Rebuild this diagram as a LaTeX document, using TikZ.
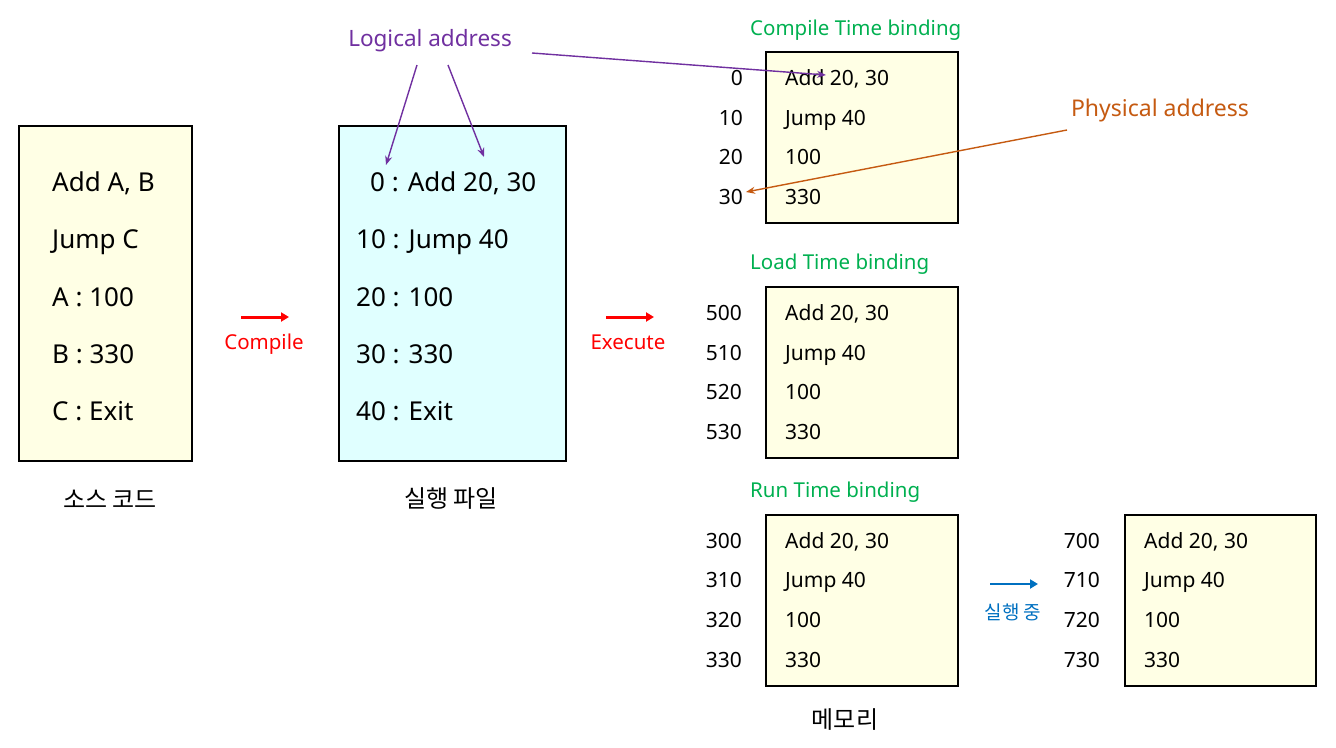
\documentclass[tikz,border=0pt]{standalone}
\usepackage{fontspec}
\setmainfont{Noto Sans}
\newfontfamily\kr{Noto Sans CJK KR}
\usetikzlibrary{arrows.meta}
\definecolor{boxyellow}{HTML}{FFFFE5}
\definecolor{boxcyan}{HTML}{E0FFFF}
\definecolor{purp}{HTML}{7030A0}
\definecolor{orng}{HTML}{C55A11}
\definecolor{grn}{HTML}{00B050}
\definecolor{blu}{HTML}{0070C0}
\tikzset{
  membox/.style={draw=black, line width=1.6pt, fill=boxyellow},
  bigtxt/.style={anchor=base west, inner sep=0pt, font=\fontsize{26}{30}\selectfont},
  smalltxt/.style={anchor=base west, inner sep=0pt, font=\fontsize{21}{25}\selectfont},
  addr/.style={anchor=base east, inner sep=0pt, font=\fontsize{21}{25}\selectfont},
  ttl/.style={anchor=base west, inner sep=0pt, text=grn, font=\fontsize{20.5}{24}\selectfont},
  captxt/.style={inner sep=0pt, font=\kr\fontsize{24}{28}\selectfont},
  steparrow/.style={-{Triangle[length=8pt,width=9pt]}, line width=3pt},
  ptr/.style={-{Stealth[length=9pt,width=7pt]}, line width=1.4pt},
}
\begin{document}
\begin{tikzpicture}[x=1pt,y=-1pt]
\useasboundingbox (0,0) rectangle (1336,747);
% source code box
\node[membox, minimum width=173pt, minimum height=335pt, anchor=north west] (src) at (18,125) {};
\foreach \t/\y [count=\i] in {{Add A, B}/191,{Jump C}/248,{A : 100}/306,{B : 330}/363,{C : Exit}/420}
  \node[bigtxt] (s\i) at (52,\y) {\t};
\node[captxt] (srclbl) at (110,499) {소스 코드};
% executable
\node[draw=black, line width=1.6pt, fill=boxcyan, minimum width=227pt, minimum height=335pt, anchor=north west] (exe) at (338,125) {};
\node[bigtxt] (e1) at (370,191) {0 : Add 20, 30};
\node[bigtxt] (e2) at (356,248) {10 : Jump 40};
\node[bigtxt] (e3) at (356,306) {20 : 100};
\node[bigtxt] (e4) at (356,363) {30 : 330};
\node[bigtxt] (e5) at (356,420) {40 : Exit};
\node[captxt] (exelbl) at (451,499) {실행 파일};
% compile / execute arrows
\coordinate (ca) at (241,317); \coordinate (cb) at (289,317);
\draw[steparrow, red] (ca) -- (cb);
\node[anchor=base, inner sep=0pt, text=red, font=\fontsize{20.5}{24}\selectfont] (clbl) at (264,349) {Compile};
\coordinate (xa) at (606,317); \coordinate (xb) at (654,317);
\draw[steparrow, red] (xa) -- (xb);
\node[anchor=base, inner sep=0pt, text=red, font=\fontsize{20.5}{24}\selectfont] (xlbl) at (628,349) {Execute};
% memory boxes
\node[membox, minimum width=192pt, minimum height=171pt, anchor=north west] (m1) at (765,51) {};
\node[membox, minimum width=192pt, minimum height=171pt, anchor=north west] (m2) at (765,286) {};
\node[membox, minimum width=192pt, minimum height=171pt, anchor=north west] (m3) at (765,514) {};
\node[membox, minimum width=191pt, minimum height=171pt, anchor=north west] (m4) at (1124,514) {};
\node[ttl] (t1) at (750,35) {Compile Time binding};
\node[ttl] (t2) at (750,269) {Load Time binding};
\node[ttl] (t3) at (750,497) {Run Time binding};
% rows
\foreach \a/\t/\y [count=\i] in {0/{Add 20, 30}/85,10/{Jump 40}/125,20/100/164,30/330/204}{
  \node[addr] (a1\i) at (743,\y) {\a};
  \node[smalltxt] (r1\i) at (785,\y) {\t};
}
\foreach \a/\t/\y [count=\i] in {500/{Add 20, 30}/320,510/{Jump 40}/360,520/100/399,530/330/439}{
  \node[addr] (a2\i) at (742,\y) {\a};
  \node[smalltxt] (r2\i) at (785,\y) {\t};
}
\foreach \a/\t/\y [count=\i] in {300/{Add 20, 30}/548,310/{Jump 40}/587,320/100/627,330/330/667}{
  \node[addr] (a3\i) at (742,\y) {\a};
  \node[smalltxt] (r3\i) at (785,\y) {\t};
}
\foreach \a/\t/\y [count=\i] in {700/{Add 20, 30}/548,710/{Jump 40}/587,720/100/627,730/330/667}{
  \node[addr] (a4\i) at (1100,\y) {\a};
  \node[smalltxt] (r4\i) at (1144,\y) {\t};
}
\node[captxt] (memlbl) at (845,720) {메모리};
% run-time arrow
\coordinate (ra) at (990,584); \coordinate (rb) at (1038,584);
\draw[-{Triangle[length=8pt,width=9pt]}, line width=2.6pt, blu] (ra) -- (rb);
\node[inner sep=0pt, text=blu, font=\kr\fontsize{19}{23}\selectfont] (rlbl) at (1013,612) {실행 중};
% logical address
\node[anchor=base, inner sep=0pt, text=purp, font=\fontsize{22.5}{26}\selectfont] (log) at (430,46) {Logical address};
\coordinate (l1s) at (417,65); \coordinate (l1e) at (386,165);
\coordinate (l2s) at (448,65); \coordinate (l2e) at (484,157);
\coordinate (l3s) at (532,53); \coordinate (l3e) at (826,75);
\draw[ptr, purp] (l1s) -- (l1e);
\draw[ptr, purp] (l2s) -- (l2e);
\draw[ptr, purp] (l3s) -- (l3e);
% physical address
\node[anchor=base, inner sep=0pt, text=orng, font=\fontsize{23}{27}\selectfont] (phy) at (1160,116) {Physical address};
\coordinate (ps) at (1067,130); \coordinate (pe) at (746,192);
\draw[ptr, orng] (ps) -- (pe);
\end{tikzpicture}
\end{document}
